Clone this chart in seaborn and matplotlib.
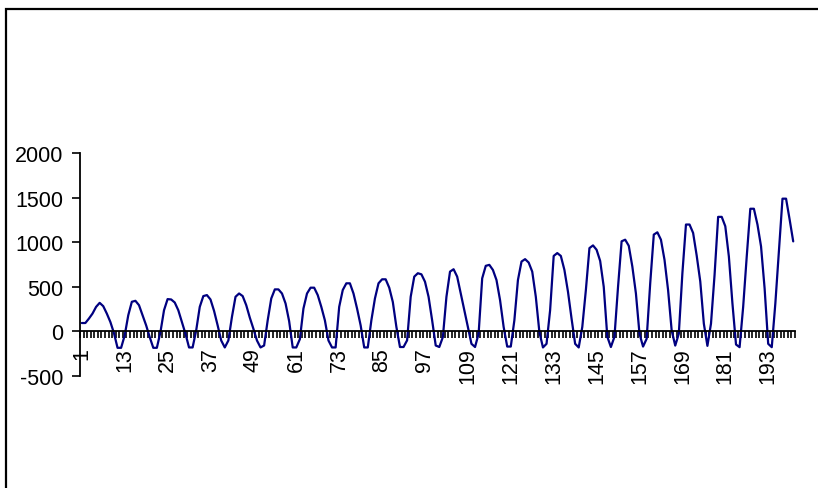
import matplotlib
matplotlib.use("Agg")
import matplotlib.pyplot as plt
from matplotlib.patches import Rectangle
import seaborn as sns
import pandas as pd
import numpy as np

# ---- data ----
period = list(range(1, 201))
values = [
    94, 94, 144, 200, 275, 320, 283, 200, 105, -19,
    -184, -184, -45, 181, 332, 343, 294, 181, 68, -64,
    -184, -184, -8, 237, 362, 358, 324, 237, 105, -26,
    -180, -180, 11, 275, 396, 407, 358, 230, 68, -102,
    -180, -102, 162, 388, 425, 396, 294, 154, 30, -102,
    -180, -158, 124, 369, 471, 471, 425, 313, 115,
    -180, -180, -87, 256, 425, 490, 490, 407, 275, 124, -102,
    -180, -180, 275, 464, 539, 539, 425, 256, 68,
    -180, -180, 124, 369, 539, 584, 584, 490, 330, 50,
    -175, -175, -100, 388, 614, 652, 640, 557, 388, 124,
    -158, -175, -64, 388, 670, 697, 614, 426, 238, 50,
    -139, -175, -26, 595, 735, 746, 689, 576, 350, 50,
    -170, -170, 124, 576, 783, 810, 772, 670, 388, -8,
    -180, -139, 237, 846, 878, 846, 689, 444, 143,
    -139, -180, 50, 463, 934, 964, 915, 790, 500, -60,
    -175, -60, 500, 1010, 1028, 960, 727, 426, -26,
    -170, -83, 539, 1085, 1111, 1028, 802, 463, 11,
    -159, -26, 652, 1198, 1198, 1104, 850, 560, 87,
    -162, 87, 633, 1284, 1284, 1179, 840, 313, -147,
    -177, 275, 840, 1375, 1375, 1198, 953, 482, -139,
    -177, 313, 896, 1488, 1488, 1254, 1009,
]
x_tick_labels = list(range(1, 201, 12))
y_ticks = [-500, 0, 500, 1000, 1500, 2000]

df = pd.DataFrame({"period": period, "value": values})

sns.set_style("white")
plt.rcParams["font.family"] = ["Liberation Sans", "DejaVu Sans"]

W, H = 818, 489
fig = plt.figure(figsize=(W / 100, H / 100), dpi=100)
ax = fig.add_axes([80 / W, (H - 377) / H, (795 - 80) / W, (377 - 154) / H])

sns.lineplot(data=df, x="period", y="value", color="#000080", linewidth=1.6, ax=ax)

ax.set_xlim(0.5, 200.5)
ax.set_ylim(-500, 2000)
ax.set_yticks(y_ticks)
ax.set_yticklabels([str(v) for v in y_ticks])
ax.set_xticks(x_tick_labels)
ax.set_xticklabels([str(v) for v in x_tick_labels])
ax.set_xticks(np.arange(0.5, 201, 1.0), minor=True)
ax.tick_params(axis="x", which="major", length=0, pad=11.5, labelsize=15.5,
               colors="black", labelrotation=90)
ax.tick_params(axis="x", which="minor", length=5, width=1.2, direction="out",
               color="black", bottom=True)
ax.tick_params(axis="y", which="major", length=6, width=1.2, direction="out", pad=6,
               labelsize=15.5, left=True, colors="black")
for lbl in ax.get_xticklabels():
    lbl.set_verticalalignment("top")
    lbl.set_horizontalalignment("center")
    lbl.set_rotation_mode("default")
ax.set_xlabel("")
ax.set_ylabel("")

for s in ["top", "right"]:
    ax.spines[s].set_visible(False)
ax.spines["bottom"].set_position(("data", 0))
ax.spines["bottom"].set_color("black")
ax.spines["bottom"].set_linewidth(1.3)
ax.spines["left"].set_color("black")
ax.spines["left"].set_linewidth(1.3)
ax.grid(False)

# chart-area border (top and left visible, right/bottom cut off)
fig.patches.append(Rectangle((6 / W, -0.1), 1.2, 1.1 - 10 / H, transform=fig.transFigure,
                             fill=False, edgecolor="black", linewidth=1.6))

fig.savefig("out.png", dpi=100)
